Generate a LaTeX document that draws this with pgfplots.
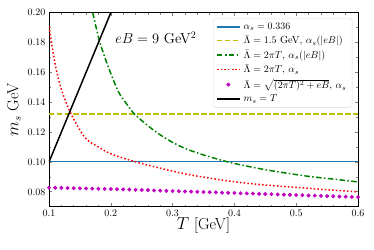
\documentclass[border=0pt]{standalone}
\usepackage{pgfplots}
\pgfplotsset{compat=1.18}
\definecolor{mplblue}{rgb}{0.122,0.467,0.706}
\definecolor{mplolive}{rgb}{0.75,0.75,0}
\definecolor{mplgreen}{rgb}{0,0.5,0}
\definecolor{mplmag}{rgb}{0.75,0,0.75}
\definecolor{mplred}{rgb}{1,0,0}
\begin{document}
\begin{tikzpicture}
\path[use as bounding box] (-49pt,-42.3pt) rectangle (325pt,206.7pt);
\begin{axis}[
  at={(0,0)}, anchor=south west,
  scale only axis, width=309pt, height=194pt,
  xmin=0.1, xmax=0.6, ymin=0.07, ymax=0.2,
  xtick={0.1,0.2,0.3,0.4,0.5,0.6},
  ytick={0.08,0.10,0.12,0.14,0.16,0.18,0.20},
  minor x tick num=4, minor y tick num=1,
  tick align=inside, tick pos=both,
  major tick length=3.5pt, minor tick length=2pt,
  axis line style={line width=0.8pt},
  major tick style={line width=0.6pt}, minor tick style={line width=0.5pt},
  ticklabel style={font=\fontsize{10}{12}\selectfont},
  xticklabel style={/pgf/number format/fixed,/pgf/number format/fixed zerofill,/pgf/number format/precision=1},
  yticklabel style={/pgf/number format/fixed,/pgf/number format/fixed zerofill,/pgf/number format/precision=2},
  scaled ticks=false,
  xlabel={$T$ [GeV]}, ylabel={$m_s$ GeV},
  xlabel style={font=\fontsize{16}{18}\selectfont, at={([yshift=-18.3pt]axis description cs:0.5,0)}, anchor=center},
  ylabel style={font=\fontsize{16}{18}\selectfont, at={([xshift=-35pt]axis description cs:0,0.5)}, anchor=center},
  legend style={at={(rel axis cs:0.9816,0.971)}, anchor=north east, draw=black!15, rounded corners=2.5pt,
    fill=white, font=\fontsize{10.3}{11}\selectfont,
    nodes={inner ysep=0.4pt, inner xsep=3pt},
    cells={anchor=west}, row sep=4pt, inner xsep=2.5pt, inner ysep=4pt},
  legend image code/.code={\draw[mark repeat=2,mark phase=2,#1] plot coordinates {(0pt,0pt) (11.5pt,0pt) (23pt,0pt)};},
]
\addplot[color=mplblue, line width=1.6pt] coordinates {(0.1,0.1002) (0.6,0.1002)};
\addlegendentry{$\alpha_s = 0.336$}
\addplot[color=mplolive, line width=1.5pt, dash pattern=on 5.5pt off 2.5pt] coordinates {(0.1,0.132) (0.6,0.132)};
\addlegendentry{$\bar\Lambda = 1.5$ GeV, $\alpha_s(|eB|)$}
\addplot[color=mplgreen, line width=1.5pt, dash pattern=on 5.5pt off 2.4pt on 1.5pt off 2.4pt, smooth, tension=0.5] coordinates {
(0.1707,0.2000) (0.181,0.1820) (0.19,0.1705) (0.1987,0.1606) (0.2122,0.1471) (0.225,0.1392)
(0.239,0.1318) (0.266,0.1223) (0.285,0.1168) (0.304,0.1122) (0.3228,0.1086) (0.35,0.1047)
(0.3875,0.1002) (0.42,0.0972) (0.46,0.0941) (0.517,0.0905) (0.56,0.0885) (0.6,0.0866)};
\addlegendentry{$\bar\Lambda = 2\pi T$, $\alpha_s(|eB|)$}
\addplot[color=mplred, line width=1.5pt, dash pattern=on 1.5pt off 2.2pt, smooth, tension=0.5] coordinates {
(0.100,0.1907) (0.1097,0.1660) (0.1205,0.1480) (0.1356,0.1322) (0.158,0.1164) (0.18,0.1100)
(0.2015,0.1052) (0.239,0.1002) (0.28,0.0958) (0.32,0.0920) (0.365,0.0888) (0.41,0.0862)
(0.46,0.0842) (0.517,0.0824) (0.56,0.0811) (0.6,0.0799)};
\addlegendentry{$\bar\Lambda = 2\pi T$, $\alpha_s$}
\addplot[color=mplmag, only marks, mark=*, mark size=1.8pt, mark options={fill=mplmag}] coordinates {
(0.10,0.0828) (0.11,0.0827) (0.12,0.0826) (0.13,0.0825) (0.14,0.0824) (0.15,0.0823)
(0.16,0.0822) (0.17,0.0821) (0.18,0.0820) (0.19,0.0819) (0.20,0.0818) (0.21,0.0817)
(0.22,0.0816) (0.23,0.0815) (0.24,0.0813) (0.25,0.0812) (0.26,0.0811) (0.27,0.0809)
(0.28,0.0808) (0.29,0.0806) (0.30,0.0805) (0.31,0.0804) (0.32,0.0802) (0.33,0.0801)
(0.34,0.0800) (0.35,0.0798) (0.36,0.0797) (0.37,0.0796) (0.38,0.0794) (0.39,0.0793)
(0.40,0.0792) (0.41,0.0790) (0.42,0.0789) (0.43,0.0788) (0.44,0.0786) (0.45,0.0785)
(0.46,0.0784) (0.47,0.0782) (0.48,0.0781) (0.49,0.0780) (0.50,0.0778) (0.51,0.0777)
(0.52,0.0775) (0.53,0.0774) (0.54,0.0773) (0.55,0.0771) (0.56,0.0770) (0.57,0.0768)
(0.58,0.0767) (0.59,0.0765) (0.60,0.0764)};
\addlegendentry{\makebox[103pt][l]{$\bar\Lambda = \sqrt{(2\pi T)^2 + eB}$, $\alpha_s$}}
\addplot[color=black, line width=1.5pt] coordinates {(0.1,0.1) (0.2,0.2)};
\addlegendentry{$m_s = T$}
\node[anchor=base west, font=\fontsize{14.5}{16}\selectfont] at (rel axis cs:0.203,0.839) {$eB = 9$ GeV$^2$};
\end{axis}
\end{tikzpicture}
\end{document}
